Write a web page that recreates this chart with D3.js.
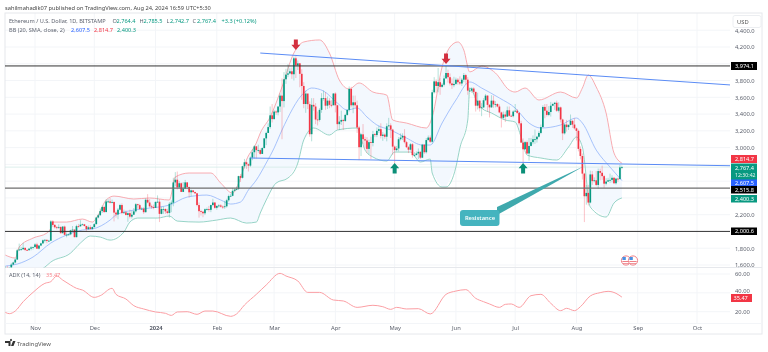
<!DOCTYPE html>
<html>
<head>
<meta charset="utf-8">
<title>Ethereum / U.S. Dollar</title>
<script src="https://cdn.jsdelivr.net/npm/d3@7"></script>
<style>
	html,body{margin:0;padding:0;background:#fff;overflow:hidden}
	svg{display:block;filter:blur(.3px)}
	text{font-family:"Noto Sans",sans-serif}
</style>
</head>
<body>
<div id="chart"></div>
<script>
// daily candles, first one is 2023-10-17. open = previous close
const firstDay = new Date(2023,9,17)
const closes = [
	1567,1565,1567,1605,1630,1665,1775,1785,1788,1805,1780,1777,1795,1810,1815,
	1845,1795,1832,1858,1895,1900,1887,1890,2120,2078,2050,2045,2054,1980,2058,1960,1962,1965,2013,2022,1932,2063,2062,2081,2085,2065,2028,2050,2030,2052,
	2087,2166,2193,2243,2292,2232,2358,2358,2342,2352,2225,2203,2260,2315,2220,2228,2197,2218,2177,2200,2240,2325,2314,2267,2272,2230,2378,2345,2300,2292,2281,
	2352,2355,2210,2268,2268,2240,2221,2330,2343,2585,2617,2525,2575,2472,2512,2585,2530,2467,2490,2470,2455,2315,2242,2235,2217,2265,2268,2258,2315,2345,2282,
	2305,2310,2296,2290,2300,2372,2422,2425,2485,2500,2506,2660,2640,2778,2825,2802,2785,2880,2945,3015,2970,2970,2925,2995,3110,3175,3245,3385,3340,
	3430,3420,3490,3620,3555,3815,3870,3885,3910,3875,4065,3980,4005,3880,3735,3520,3645,3518,3160,3510,3490,3335,3330,3450,3590,3590,3500,3560,3510,3505,3645,
	3505,3280,3310,3330,3318,3390,3450,3700,3505,3540,3505,3240,3005,3158,3100,3085,2985,3065,3055,3160,3150,3200,3220,3140,3155,3130,3255,3265,3215,3012,
	2970,2990,3100,3120,3140,3065,3005,2975,3040,2910,2912,2930,2950,2880,3035,2945,3090,3120,3070,3660,3790,3735,3780,3725,3750,3825,3890,3840,3765,3745,3760,
	3810,3780,3765,3810,3865,3810,3680,3680,3705,3665,3500,3560,3470,3480,3565,3620,3510,3480,3560,3515,3520,3490,3420,3355,3395,3370,3445,3380,3375,3430,
	3440,3415,3290,3060,2980,3065,2930,3020,3065,3100,3100,3130,3175,3245,3485,3440,3390,3425,3500,3520,3535,3440,3480,3335,3170,3275,3245,3270,3320,3275,3230,
	3200,2985,2900,2690,2420,2460,2345,2680,2600,2610,2555,2720,2700,2660,2570,2595,2610,2615,2640,2575,2630,2625,2764,2767
]
const highs = [
	1585,1590,1575,1625,1640,1680,1790,1855,1815,1865,1805,1790,1805,1825,1820,
	1860,1865,1835,1865,1905,1910,1905,1900,2136,2135,2090,2065,2085,2060,2065,2070,1990,1975,2020,2065,2025,2080,2090,2135,2095,2090,2070,2070,2075,2060,
	2100,2175,2210,2275,2310,2305,2385,2385,2400,2380,2355,2240,2280,2330,2335,2260,2250,2230,2260,2245,2280,2340,2330,2330,2290,2290,2395,2445,2385,2320,2320,
	2360,2430,2385,2295,2295,2275,2270,2350,2370,2640,2708,2715,2600,2585,2590,2615,2590,2535,2500,2485,2475,2460,2345,2260,2245,2275,2285,2305,2320,2390,2350,
	2310,2325,2325,2310,2365,2390,2440,2450,2520,2515,2535,2665,2685,2785,2865,2835,2810,2895,2985,3030,3020,3035,2990,3005,3115,3190,3290,3490,3520,
	3450,3445,3490,3645,3825,3900,3940,3995,3945,3955,4085,4090,4040,4010,3935,3780,3680,3615,3550,3590,3590,3530,3430,3470,3650,3680,3660,3610,3590,3565,3650,
	3660,3510,3375,3440,3345,3405,3455,3730,3725,3620,3620,3560,3260,3170,3280,3130,3125,3095,3130,3200,3175,3240,3260,3290,3185,3170,3290,3355,3290,3225,
	3025,3020,3125,3170,3170,3220,3080,3020,3055,3055,2945,2955,2990,2955,3045,3040,3115,3145,3145,3690,3840,3815,3950,3830,3770,3860,3975,3930,3885,3825,3845,
	3835,3830,3850,3830,3890,3880,3840,3715,3720,3720,3665,3655,3565,3530,3590,3640,3625,3520,3625,3620,3555,3530,3515,3430,3430,3430,3490,3490,3395,3445,
	3520,3460,3425,3320,3110,3080,3085,3115,3115,3145,3215,3140,3200,3275,3505,3520,3520,3495,3545,3535,3545,3560,3540,3490,3345,3285,3330,3280,3395,3325,3350,
	3240,3215,3015,2930,2700,2555,2555,2725,2720,2645,2720,2750,2750,2785,2675,2635,2640,2690,2670,2650,2640,2640,2795,2785
]
const lows = [
	1555,1555,1545,1560,1600,1620,1660,1770,1770,1780,1765,1770,1770,1775,1785,
	1800,1790,1785,1825,1850,1870,1860,1875,1885,2055,2035,2025,2030,1975,1975,1950,1930,1950,1955,1990,1930,1930,2045,2055,2075,2060,2000,2020,2025,2020,
	2045,2085,2155,2190,2220,2220,2225,2340,2335,2335,2120,2165,2145,2250,2205,2210,2190,2115,2155,2155,2195,2225,2270,2260,2255,2210,2225,2335,2285,2270,2265,
	2280,2340,2112,2205,2210,2210,2205,2165,2230,2300,2540,2500,2515,2470,2470,2505,2505,2405,2420,2460,2450,2300,2165,2190,2170,2195,2250,2235,2230,2300,2270,
	2260,2285,2285,2270,2270,2285,2355,2410,2420,2475,2490,2495,2590,2630,2750,2745,2715,2770,2850,2870,2870,2940,2915,2925,2990,3030,3175,3225,3300,
	3335,3390,3385,3425,3100,3480,3760,3840,3875,3820,3800,3830,3925,3720,3570,3470,3415,3460,3130,3075,3440,3280,3265,3310,3415,3560,3450,3460,3470,3480,3505,
	3420,3215,3210,3270,3210,3305,3380,3430,3480,3410,3470,3175,2850,2900,3040,2990,2935,2920,2865,3015,3125,3125,3175,3110,3080,3105,3075,3240,3115,2915,
	2815,2955,2955,3085,3090,3050,2995,2935,2965,2880,2890,2905,2865,2865,2875,2925,2930,3085,3055,3050,3645,3650,3660,3630,3715,3730,3825,3775,3740,3700,3720,
	3745,3750,3745,3735,3780,3755,3630,3670,3655,3645,3430,3455,3430,3375,3470,3555,3430,3360,3475,3475,3480,3480,3410,3240,3335,3305,3365,3370,3365,3360,
	3425,3400,3265,3055,2810,2980,2925,2845,3015,3040,3045,3060,3120,3160,3240,3350,3370,3375,3370,3495,3450,3425,3420,3300,3090,3155,3190,3210,3265,3235,3215,
	3085,2955,2860,2620,2112,2320,2310,2335,2555,2585,2540,2510,2610,2615,2520,2550,2590,2580,2585,2565,2560,2590,2620,2743
]

// bollinger bands, index = days after firstDay
const upperDays = [0,5,7,14,21,23,24,31,39,44,47,51,55,65,73,83,86,93,104,109,115,119,122,127,129,134,140,146,151,159,164,169,174,179,186,193,196,203,213,216,221,225,229,232,235,241,248,255,258,263,270,281,289,292,295,299,304,308,312]
const upperVals = [1718,1683,1814,1921,1981,2041,2112,2112,2148,2112,2196,2375,2422,2387,2399,2375,2650,2697,2697,2577,2458,2637,2852,3055,3174,3365,3723,4128,4260,4284,4128,3806,3699,3771,3663,3627,3329,3293,3234,3365,3962,4200,4260,4164,3902,3973,3890,3687,3663,3711,3568,3663,3592,3711,3866,3723,3413,2935,2815]
const midDays = [0,6,14,23,31,39,44,53,56,65,73,83,92,102,109,114,119,123,127,132,136,140,151,155,161,168,173,178,183,188,195,203,211,215,221,228,235,241,250,258,265,271,281,289,292,299,306,312]
const midVals = [1587,1611,1695,1862,1957,2017,2029,2136,2196,2255,2279,2315,2410,2434,2375,2327,2351,2494,2613,2816,2995,3210,3651,3711,3675,3532,3448,3472,3365,3270,3210,3114,3031,3031,3293,3568,3783,3711,3592,3472,3293,3234,3270,3353,3293,2971,2768,2607]
const lowerDays = [0,10,20,23,33,38,43,48,53,60,63,67,77,83,87,98,107,114,122,127,129,132,137,143,148,151,156,164,168,178,182,186,193,197,205,210,215,216,221,223,228,230,234,235,239,241,246,253,258,261,264,271,279,285,289,292,296,304,308,312]
const lowerVals = [1450,1480,1575,1635,1742,1862,1945,1933,1897,1993,2112,2160,2160,2184,2124,2112,2136,2160,2100,2112,2220,2375,2577,2637,2816,3091,3234,3150,3210,3234,2971,2888,2840,2947,2947,2828,2864,2697,2530,2530,2768,2995,3329,3711,3532,3472,3413,3329,3305,3126,2911,2876,2852,3007,3126,3007,2291,2172,2339,2400]

// adx pane
const adxDays = [0,2,5,9,14,20,23,26,29,33,36,39,45,48,54,56,61,65,70,76,81,84,87,92,97,101,105,114,117,121,127,132,139,142,148,153,159,166,171,178,186,191,195,198,203,209,215,223,228,233,238,242,245,250,253,256,260,266,271,276,281,284,288,291,296,301,305,309,312]
const adxVals = [19.3,17.9,20.7,30.6,40.5,50.1,51.9,57.9,53.6,48.3,44.8,43.0,35.2,37.0,44.8,38.4,33.5,26.4,22.9,19.7,18.3,16.1,19.7,20.0,17.2,20.7,20.7,15.1,17.6,27.1,38.4,48.3,60.7,57.9,52.6,40.5,40.5,32.4,31.4,24.6,26.8,25.3,22.5,24.6,22.9,23.2,17.6,38.4,41.9,43.4,34.2,30.6,28.2,24.6,27.8,28.2,24.6,37.0,38.4,28.9,21.1,23.6,21.1,25.3,36.7,40.2,41.6,39.5,35.47]

// hand drawn things on the chart
const levels = [3974.1,2515.8,2000.6]
const trendUpper = {days:[129,367],vals:[4128,3747]}
const trendLower = {days:[124,367],vals:[2876,2784]}
const sellArrows = [{day:147,val:4164},{day:223,val:3997}]
const buyArrows = [{day:197,val:2816},{day:262,val:2816}]
const calloutTip = {day:293,val:2780}

const priceTicks = [4400,4200,3800,3600,3400,3200,3000,2200,1800,1600]
const adxTicks = [60,40,20]
const gridPrices = [4400,4200,4000,3800,3600,3400,3200,3000,2800,2600,2400,2200,2000,1800,1600]
const monthTicks = [new Date(2023,10,1),new Date(2023,11,1),new Date(2024,0,1),new Date(2024,1,1),new Date(2024,2,1),new Date(2024,3,1),new Date(2024,4,1),new Date(2024,5,1),new Date(2024,6,1),new Date(2024,7,1),new Date(2024,8,1),new Date(2024,9,1)]
const monthLabels = ["Nov","Dec","2024","Feb","Mar","Apr","May","Jun","Jul","Aug","Sep","Oct"]

const badges = [
	{val:2814.7,text:"2,814.7",fill:"#f23645",top:155,h:8},
	{val:2607.5,text:"2,607.5",fill:"#2962ff",top:179,h:7.5},
	{val:2515.8,text:"2,515.8",fill:"#000",top:186,h:7.5},
	{val:2400.3,text:"2,400.3",fill:"#089981",top:195,h:7.5},
	{val:2000.6,text:"2,000.6",fill:"#000",top:227.5,h:7.5},
	{val:3974.1,text:"3,974.1",fill:"#000",top:62,h:8}
]

const width = 768
const height = 352
const left = 5
const right = 730
const axisRight = 762
const upCol = "#089981"
const downCol = "#f23645"

const svg = d3.select("#chart").append("svg").attr("width",width).attr("height",height)

const x = d3.scaleTime().domain([new Date(2023,10,1),new Date(2024,9,1)]).range([35,697])
const y = d3.scaleLinear().domain([1600,4200]).range([265,47])
const yAdx = d3.scaleLinear().domain([20,60]).range([311.7,274])
const dayX = i => x(d3.timeDay.offset(firstDay,i))

svg.append("defs").append("clipPath").attr("id","mainClip").append("rect")
	.attr("x",left).attr("y",13).attr("width",right-left).attr("height",254.5)

// grid
const grid = svg.append("g").attr("stroke","#f3f5f8").attr("stroke-width",1)
grid.selectAll(".vgrid").data(monthTicks).enter().append("line")
	.attr("x1",d=>x(d)).attr("x2",d=>x(d)).attr("y1",13).attr("y2",323)
grid.selectAll(".hgrid").data(gridPrices).enter().append("line")
	.attr("x1",left).attr("x2",right).attr("y1",d=>y(d)).attr("y2",d=>y(d))
grid.selectAll(".agrid").data(adxTicks).enter().append("line")
	.attr("x1",left).attr("x2",right).attr("y1",d=>yAdx(d)).attr("y2",d=>yAdx(d))

// pane borders
svg.append("rect").attr("x",left).attr("y",13).attr("width",axisRight-left).attr("height",321)
	.attr("fill","none").attr("stroke","#e6e8ec")
svg.append("line").attr("x1",left).attr("x2",axisRight).attr("y1",267.5).attr("y2",267.5).attr("stroke","#e6e8ec")
svg.append("line").attr("x1",left).attr("x2",axisRight).attr("y1",323.5).attr("y2",323.5).attr("stroke","#f3f5f8")

const main = svg.append("g").attr("clip-path","url(#mainClip)")

// band fill, upper line then lower line backwards
const curve = d3.curveMonotoneX
const upperPts = upperDays.map((d,i)=>[dayX(d),y(upperVals[i])])
const midPts = midDays.map((d,i)=>[dayX(d),y(midVals[i])])
const lowerPts = lowerDays.map((d,i)=>[dayX(d),y(lowerVals[i])])
const lineGen = d3.line().curve(curve)
main.append("path")
	.attr("d",lineGen(upperPts)+"L"+lowerPts.slice().reverse().map(p=>p.join(",")).join("L")+"Z")
	.attr("fill","#f3f8fe").attr("stroke","none")

// current price line
main.append("line").attr("x1",left).attr("x2",right)
	.attr("y1",y(2767.4)).attr("y2",y(2767.4))
	.attr("stroke","#cfe9e4").attr("stroke-width",.7)

main.append("path").attr("d",lineGen(upperPts)).attr("fill","none").attr("stroke","#f7a3a8").attr("stroke-width",.9)
main.append("path").attr("d",lineGen(midPts)).attr("fill","none").attr("stroke","#9dbcfb").attr("stroke-width",.9)
main.append("path").attr("d",lineGen(lowerPts)).attr("fill","none").attr("stroke","#8ccfc1").attr("stroke-width",.9)

// candles
const candles = closes.map((c,i)=>({i:i,open:i==0?1565:closes[i-1],close:c,high:highs[i],low:lows[i]}))
const candleCol = d=>d.close>=d.open?upCol:downCol
main.selectAll(".wick").data(candles).enter().append("line")
	.attr("class","wick")
	.attr("x1",d=>dayX(d.i)).attr("x2",d=>dayX(d.i))
	.attr("y1",d=>y(d.high)).attr("y2",d=>y(d.low))
	.attr("stroke",candleCol).attr("stroke-width",.5).attr("stroke-opacity",.6)
main.selectAll(".body").data(candles).enter().append("rect")
	.attr("class","body")
	.attr("x",d=>dayX(d.i)-.85).attr("width",1.7)
	.attr("y",d=>Math.min(y(d.open),y(d.close)))
	.attr("height",d=>Math.max(.8,Math.abs(y(d.open)-y(d.close))))
	.attr("fill",candleCol)

// support / resistance levels
main.selectAll(".level").data(levels).enter().append("line")
	.attr("x1",left).attr("x2",right).attr("y1",d=>y(d)).attr("y2",d=>y(d))
	.attr("stroke",(d,i)=>i==1?"#6e6e6e":"#333").attr("stroke-width",(d,i)=>i==1?1.2:1)

// trend lines
;[trendUpper,trendLower].forEach(t=>{
	main.append("line")
		.attr("x1",dayX(t.days[0])).attr("x2",dayX(t.days[1]))
		.attr("y1",y(t.vals[0])).attr("y2",y(t.vals[1]))
		.attr("stroke","#5b8cf5").attr("stroke-width",1)
})

// arrows
function arrow(cx,tipY,dir,col){
	const h = 10.5*dir
	main.append("path")
		.attr("d",`M${cx},${tipY}L${cx+4.5},${tipY+h*.5}L${cx+2},${tipY+h*.5}L${cx+2},${tipY+h}L${cx-2},${tipY+h}L${cx-2},${tipY+h*.5}L${cx-4.5},${tipY+h*.5}Z`)
		.attr("fill",col)
}
sellArrows.forEach(a=>arrow(dayX(a.day),y(a.val),-1,"#d3303f"))
buyArrows.forEach(a=>arrow(dayX(a.day),y(a.val),1,"#0b8f78"))

// resistance callout
const tipX = dayX(calloutTip.day)
const tipY = y(calloutTip.val)
main.append("path")
	.attr("d",`M${tipX},${tipY}L497,207L497,215Z`)
	.attr("fill","#3fa9ad")
main.append("rect").attr("x",460).attr("y",210).attr("width",39.5).attr("height",16).attr("rx",3)
	.attr("fill","#45b4bf")
main.append("text").attr("x",480).attr("y",220).attr("text-anchor","middle")
	.attr("font-size",5.8).attr("font-weight",600).attr("fill","#fff").text("Resistance")

// earnings style flag badges
;[626,633].forEach(cx=>{
	const g = main.append("g")
	g.append("circle").attr("cx",cx).attr("cy",260.5).attr("r",4.6)
		.attr("fill","#fff").attr("stroke","#ee7f86").attr("stroke-width",1)
	g.append("rect").attr("x",cx-3.6).attr("y",257).attr("width",3.4).attr("height",3).attr("fill","#4a90e2")
	g.append("rect").attr("x",cx-3.6).attr("y",261).attr("width",7.2).attr("height",1).attr("fill","#ee7f86")
	g.append("rect").attr("x",cx-3).attr("y",263).attr("width",6).attr("height",.8).attr("fill","#ee7f86")
})

// price axis
const priceAxis = d3.axisRight(y).tickValues(priceTicks).tickFormat(d3.format(",.1f")).tickSize(0).tickPadding(5)
const pa = svg.append("g").attr("transform",`translate(${right},0)`).call(priceAxis)
pa.select(".domain").remove()
pa.selectAll("text").attr("font-size",5.8).attr("fill","#5a5f6b").attr("font-family",'"Noto Sans",sans-serif')

// USD box sits on top of the 4,400 label
svg.append("rect").attr("x",733).attr("y",15.5).attr("width",28).attr("height",12).attr("rx",2)
	.attr("fill","#fff").attr("stroke","#eceef1")
svg.append("text").attr("x",737).attr("y",23.5).attr("font-size",5.8).attr("fill","#555").text("USD")

// price badges
const bw = 26
svg.selectAll(".badge").data(badges).enter().append("rect")
	.attr("x",731).attr("y",d=>d.top).attr("width",bw).attr("height",d=>d.h).attr("fill",d=>d.fill)
svg.selectAll(".badgeText").data(badges).enter().append("text")
	.attr("x",735).attr("y",d=>d.top+d.h-1.8).attr("font-size",5.6).attr("fill","#fff").text(d=>d.text)
svg.append("rect").attr("x",731).attr("y",163.5).attr("width",bw).attr("height",16).attr("fill",upCol)
svg.append("text").attr("x",735).attr("y",169.5).attr("font-size",5.6).attr("fill","#fff").text("2,767.4")
svg.append("text").attr("x",735).attr("y",177).attr("font-size",5.2).attr("fill","#e6f5f1").text("12:30:42")

// adx
svg.append("path")
	.attr("d",d3.line().curve(curve)(adxDays.map((d,i)=>[dayX(d),yAdx(adxVals[i])])))
	.attr("fill","none").attr("stroke","#fb9ea3").attr("stroke-width",1)
const adxAxis = d3.axisRight(yAdx).tickValues(adxTicks).tickFormat(d3.format(".2f")).tickSize(0).tickPadding(5)
const aa = svg.append("g").attr("transform",`translate(${right},0)`).call(adxAxis)
aa.select(".domain").remove()
aa.selectAll("text").attr("font-size",5.8).attr("fill","#5a5f6b").attr("font-family",'"Noto Sans",sans-serif')
// 40.00 sits just above the last value tag
aa.selectAll(".tick").filter(d=>d==40).select("text").attr("dy","-.1em")
svg.append("rect").attr("x",731).attr("y",294).attr("width",21).attr("height",8).attr("fill","#f23645")
svg.append("text").attr("x",733.5).attr("y",300.2).attr("font-size",5.6).attr("fill","#fff").text("35.47")

// time axis
const timeAxis = d3.axisBottom(x).tickValues(monthTicks).tickFormat((d,i)=>monthLabels[i]).tickSize(0).tickPadding(1)
const ta = svg.append("g").attr("transform","translate(0,325)").call(timeAxis)
ta.select(".domain").remove()
ta.selectAll("text").attr("font-size",5.8).attr("fill","#5a5f6b").attr("font-family",'"Noto Sans",sans-serif')
	.attr("font-weight",(d,i)=>monthLabels[i]=="2024"?700:400)

// header text
function label(px,py,txt,col,size){
	svg.append("text").attr("x",px).attr("y",py).attr("font-size",size||5.6).attr("fill",col).text(txt)
}
label(5,9.5,"sahilmahadik07 published on TradingView.com, Aug 24, 2024 16:59 UTC+5:30","#444",5.7)
const grey = "#5f6470"
label(9,23,"Ethereum / U.S. Dollar, 1D, BITSTAMP",grey)
label(112.5,23,"O",grey); label(116.5,23,"2,764.4",upCol)
label(139.5,23,"H",grey); label(143.5,23,"2,785.5",upCol)
label(166.5,23,"L",grey); label(170,23,"2,742.7",upCol)
label(192.5,23,"C",grey); label(197,23,"2,767.4",upCol)
label(221.5,23,"+3.3 (+0.12%)",upCol)
label(9,31.5,"BB (20, SMA, close, 2)",grey)
label(71,31.5,"2,607.5","#2962ff"); label(94,31.5,"2,814.7",downCol); label(117,31.5,"2,400.3",upCol)
label(9,277,"ADX (14, 14)",grey); label(46,277,"35.47","#f9888f")

// tradingview mark
svg.append("path").attr("d","M5,341h5.5v5h-2v-3h-3.5zM11,346l2,-5h2.5l-2,5zM11,341a1,1 0 1 1 .01,0z").attr("fill","#333")
label(17,346,"TradingView","#555",5.9)
</script>
</body>
</html>
